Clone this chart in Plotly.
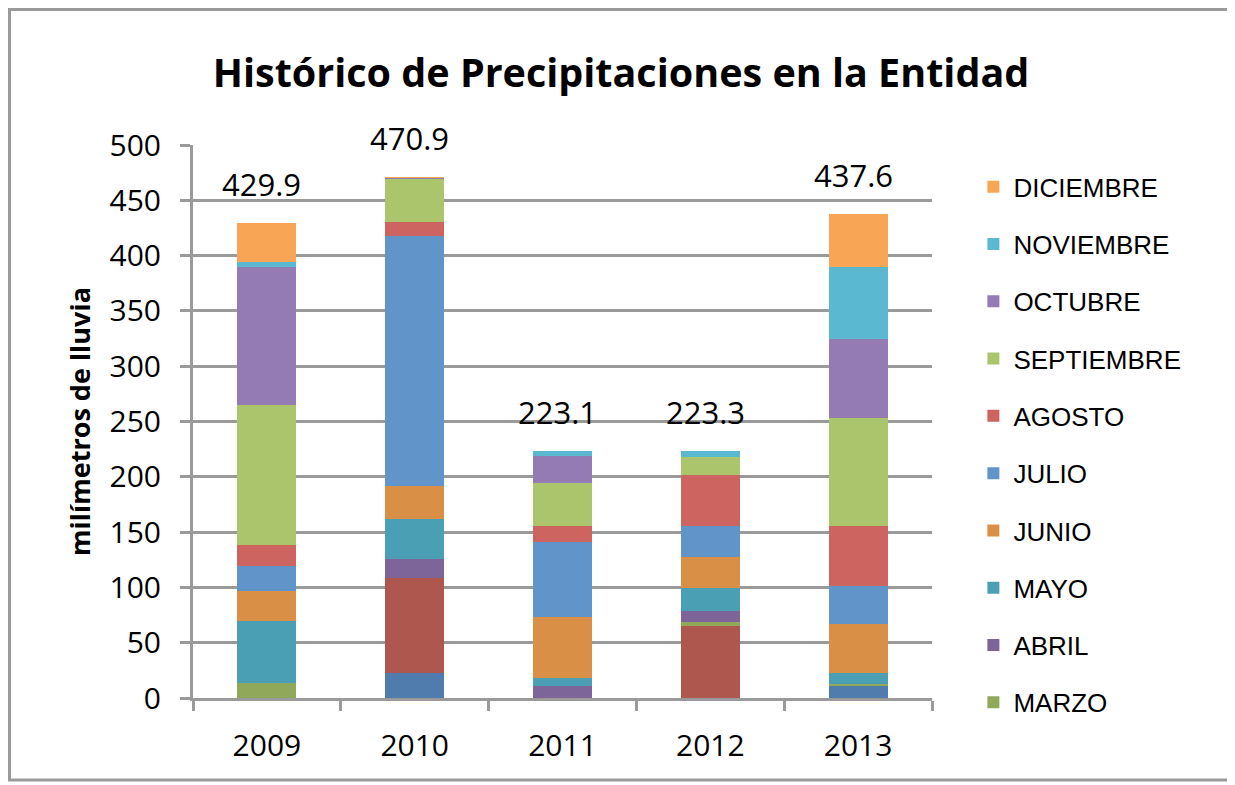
import plotly.graph_objects as go

# data
years = ['2009', '2010', '2011', '2012', '2013']
months = ['ENERO', 'FEBRERO', 'MARZO', 'ABRIL', 'MAYO', 'JUNIO',
          'JULIO', 'AGOSTO', 'SEPTIEMBRE', 'OCTUBRE', 'NOVIEMBRE', 'DICIEMBRE']
enero = [0, 22.7, 0, 0, 11.5]
febrero = [0, 85.6, 0, 65.3, 0]
marzo = [13.8, 0, 0, 3.0, 1.6]
abril = [0, 17.4, 10.8, 10.2, 0]
mayo = [56.1, 35.8, 7.3, 21.0, 9.6]
junio = [26.9, 29.9, 54.8, 28.2, 44.6]
julio = [23.0, 226.5, 67.9, 28.2, 33.8]
agosto = [18.4, 12.8, 15.1, 45.7, 54.8]
septiembre = [127.1, 39.1, 38.1, 16.1, 97.2]
octubre = [124.4, 0.4, 25.0, 0, 71.3]
noviembre = [4.3, 0.5, 4.1, 5.6, 65.0]
diciembre = [35.9, 0.2, 0, 0, 48.2]
series = [enero, febrero, marzo, abril, mayo, junio,
          julio, agosto, septiembre, octubre, noviembre, diciembre]

colors = ['#4F7CAC', '#AE574F', '#90A85A', '#7D6599', '#4A9FB5', '#D98F45',
          '#6195C9', '#CD6460', '#AAC56C', '#947BB3', '#5AB9D1', '#F8A655']

fig = go.Figure()
for i, (name, vals) in enumerate(zip(months, series)):
	fig.add_trace(go.Bar(
		x=years,
		y=vals,
		name=name,
		marker={'color': colors[i], 'line': {'width': 0}},
		legendgroup=name,
		legendrank=100 - i,
		showlegend=i >= 2,  # enero/febrero are cut from the legend
	))

# totals above each bar (category index, so the label sits on its bar)
totals = [round(sum(s[j] for s in series), 1) for j in range(len(years))]
for j, tot in enumerate(totals):
	fig.add_annotation(
		x=j, y=tot, text=f'{tot:.1f}', showarrow=False,
		xshift=-5, yshift=39, font={'family': 'Open Sans', 'size': 31, 'color': '#000000'},
	)

# chart border
fig.add_shape(
	type='rect', xref='paper', yref='paper',
	x0=-0.2483, x1=1.406, y0=-0.1483, y1=1.245,
	line={'color': '#9A9A9A', 'width': 3}, layer='below',
)

# page body adds an 8px margin, so the figure is 8px smaller to fit the window
fig.update_layout(
	width=1227,
	height=777,
	barmode='stack',
	bargap=0.6,
	paper_bgcolor='white',
	plot_bgcolor='white',
	margin={'l': 185, 'r': 303, 't': 137, 'b': 87, 'autoexpand': False},
	title={
		'text': '<b>Histórico de Precipitaciones en la Entidad</b>',
		'x': 0.4996, 'xanchor': 'center', 'y': 0.9163, 'yanchor': 'middle',
		'font': {'family': 'Open Sans', 'size': 39.5, 'color': '#000000'},
	},
	legend={
		'x': 1.056, 'xanchor': 'left', 'y': 0.967, 'yanchor': 'top',
		'traceorder': 'grouped',
		'tracegroupgap': 20.5,
		'maxheight': 760,
		'font': {'family': 'Liberation Sans', 'size': 26, 'color': '#000000'},
		'itemwidth': 30,
	},
)
fig.update_xaxes(
	type='category',
	range=[-0.5, 4.5],
	automargin=False,
	showline=True, linecolor='#9A9A9A', linewidth=3,
	ticks='outside', tickson='boundaries', ticklen=10, tickwidth=3, tickcolor='#9A9A9A',
	tickfont={'family': 'Open Sans', 'size': 30, 'color': '#000000'},
	ticklabelstandoff=19,
	showgrid=False,
)
fig.update_yaxes(
	range=[0, 500], dtick=50,
	automargin=False,
	showline=True, linecolor='#9A9A9A', linewidth=3,
	ticks='outside', ticklen=10, tickwidth=3, tickcolor='#9A9A9A',
	tickfont={'family': 'Open Sans', 'size': 30, 'color': '#000000'},
	ticklabelstandoff=13,
	showgrid=True, gridcolor='#9A9A9A', gridwidth=3,
	zeroline=False,
	title={'text': '<b>milímetros de lluvia</b>', 'standoff': 12,
	       'font': {'family': 'Open Sans', 'size': 27, 'color': '#000000'}},
)

fig.write_html('out.html')
